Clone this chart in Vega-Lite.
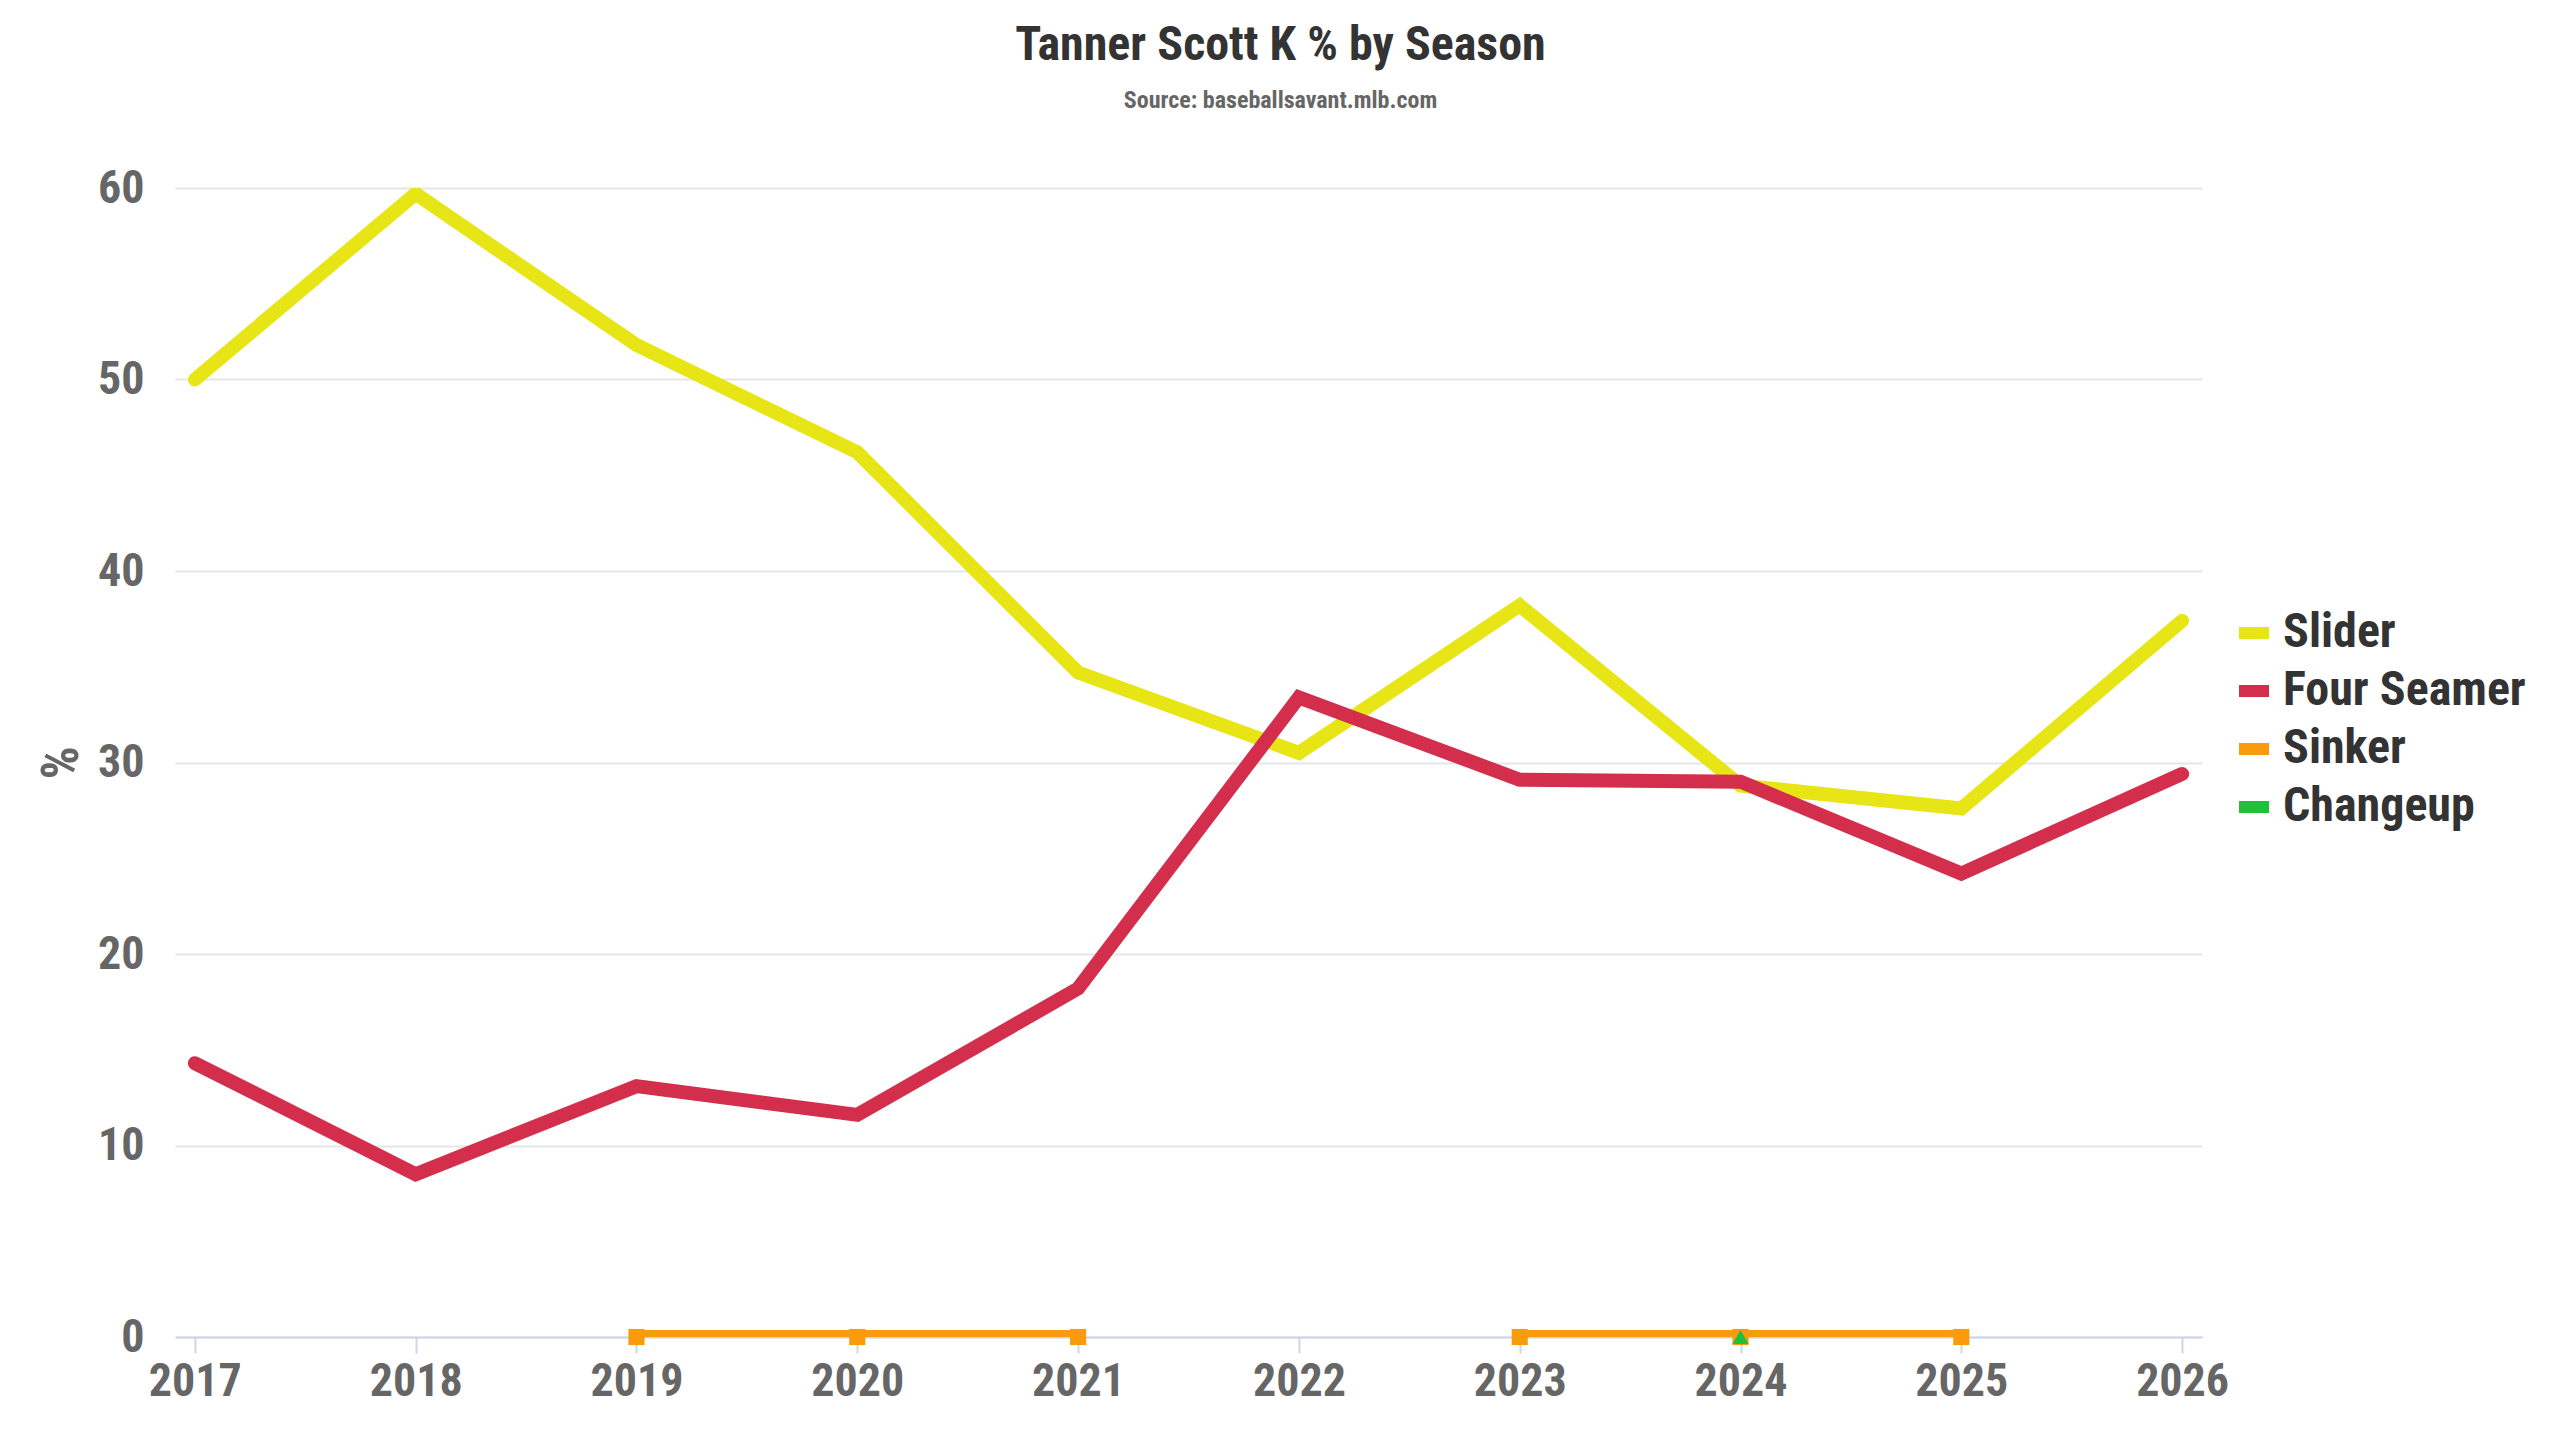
{
  "$schema": "https://vega.github.io/schema/vega-lite/v6.json",
  "width": 2027,
  "height": 1149,
  "autosize": {"type": "none"},
  "padding": {"left": 175, "top": 188, "right": 358, "bottom": 103},
  "background": "#ffffff",
  "title": {
    "text": "Tanner Scott K % by Season",
    "subtitle": "Source: baseballsavant.mlb.com",
    "anchor": "middle",
    "dx": 92,
    "offset": 52,
    "font": "Roboto Condensed, Liberation Sans Narrow, DejaVu Sans Condensed, Roboto",
    "fontSize": 48,
    "fontWeight": "bold",
    "color": "#333333",
    "subtitleFont": "Roboto Condensed, Liberation Sans Narrow, DejaVu Sans Condensed, Roboto",
    "subtitleFontSize": 24,
    "subtitleFontWeight": "bold",
    "subtitleColor": "#666666",
    "subtitlePadding": 19
  },
  "config": {
    "view": {"stroke": null},
    "font": "Roboto Condensed, Liberation Sans Narrow, DejaVu Sans Condensed, Roboto"
  },
  "data": {
    "values": [
      {"season": 2017, "pitch": "Slider", "k": 50.0, "seg": "a"},
      {"season": 2018, "pitch": "Slider", "k": 59.7, "seg": "a"},
      {"season": 2019, "pitch": "Slider", "k": 51.8, "seg": "a"},
      {"season": 2020, "pitch": "Slider", "k": 46.2, "seg": "a"},
      {"season": 2021, "pitch": "Slider", "k": 34.7, "seg": "a"},
      {"season": 2022, "pitch": "Slider", "k": 30.5, "seg": "a"},
      {"season": 2023, "pitch": "Slider", "k": 38.2, "seg": "a"},
      {"season": 2024, "pitch": "Slider", "k": 28.8, "seg": "a"},
      {"season": 2025, "pitch": "Slider", "k": 27.6, "seg": "a"},
      {"season": 2026, "pitch": "Slider", "k": 37.4, "seg": "a"},
      {"season": 2017, "pitch": "Four Seamer", "k": 14.3, "seg": "a"},
      {"season": 2018, "pitch": "Four Seamer", "k": 8.5, "seg": "a"},
      {"season": 2019, "pitch": "Four Seamer", "k": 13.1, "seg": "a"},
      {"season": 2020, "pitch": "Four Seamer", "k": 11.6, "seg": "a"},
      {"season": 2021, "pitch": "Four Seamer", "k": 18.2, "seg": "a"},
      {"season": 2022, "pitch": "Four Seamer", "k": 33.4, "seg": "a"},
      {"season": 2023, "pitch": "Four Seamer", "k": 29.1, "seg": "a"},
      {"season": 2024, "pitch": "Four Seamer", "k": 29.0, "seg": "a"},
      {"season": 2025, "pitch": "Four Seamer", "k": 24.2, "seg": "a"},
      {"season": 2026, "pitch": "Four Seamer", "k": 29.4, "seg": "a"},
      {"season": 2019, "pitch": "Sinker", "k": 0, "seg": "a"},
      {"season": 2020, "pitch": "Sinker", "k": 0, "seg": "a"},
      {"season": 2021, "pitch": "Sinker", "k": 0, "seg": "a"},
      {"season": 2023, "pitch": "Sinker", "k": 0, "seg": "b"},
      {"season": 2024, "pitch": "Sinker", "k": 0, "seg": "b"},
      {"season": 2025, "pitch": "Sinker", "k": 0, "seg": "b"},
      {"season": 2024, "pitch": "Changeup", "k": 0, "seg": "a"}
    ]
  },
  "encoding": {
    "x": {
      "field": "season",
      "type": "quantitative",
      "scale": {"domain": [2016.91, 2026.09], "nice": false, "zero": false},
      "axis": {
        "title": null,
        "values": [2017, 2018, 2019, 2020, 2021, 2022, 2023, 2024, 2025, 2026],
        "format": "d",
        "grid": false,
        "labelFontSize": 46,
        "labelFontWeight": "bold",
        "labelColor": "#666666",
        "labelPadding": 6,
        "domainColor": "#ccd6eb",
        "domainWidth": 2,
        "tickColor": "#ccd6eb",
        "tickWidth": 2,
        "tickSize": 16,
        "labelFlush": false,
        "labelOverlap": false
      }
    },
    "y": {
      "field": "k",
      "type": "quantitative",
      "scale": {"domain": [0, 60], "nice": false},
      "axis": {
        "title": "%",
        "titleFontSize": 52,
        "titleFontWeight": "bold",
        "titleColor": "#666666",
        "titlePadding": 9,
        "values": [0, 10, 20, 30, 40, 50, 60],
        "grid": true,
        "gridColor": "#e6e6e6",
        "gridWidth": 2,
        "domain": false,
        "ticks": false,
        "labelFontSize": 46,
        "labelFontWeight": "bold",
        "labelColor": "#666666",
        "labelPadding": 31
      }
    },
    "color": {
      "field": "pitch",
      "type": "nominal",
      "scale": {
        "domain": ["Slider", "Four Seamer", "Sinker", "Changeup"],
        "range": ["#e8e517", "#d32f4c", "#fa9b0e", "#20bf3c"]
      },
      "legend": {
        "title": null,
        "orient": "none",
        "legendX": 2055,
        "legendY": 421,
        "symbolType": "stroke",
        "symbolStrokeWidth": 12,
        "symbolSize": 900,
        "labelFontSize": 48,
        "labelFontWeight": "bold",
        "labelColor": "#333333",
        "labelOffset": 5,
        "rowPadding": 10,
        "labelLimit": 400
      }
    }
  },
  "layer": [
    {
      "mark": {"type": "line", "strokeWidth": 14, "clip": true, "strokeCap": "round", "strokeJoin": "miter"},
      "encoding": {"detail": {"field": "seg"}}
    },
    {
      "transform": [{"filter": "datum.pitch === 'Sinker'"}],
      "mark": {"type": "point", "shape": "square", "filled": true, "opacity": 1, "size": 260}
    },
    {
      "transform": [{"filter": "datum.pitch === 'Changeup'"}],
      "mark": {"type": "point", "shape": "triangle-up", "filled": true, "opacity": 1, "size": 260}
    }
  ]
}
